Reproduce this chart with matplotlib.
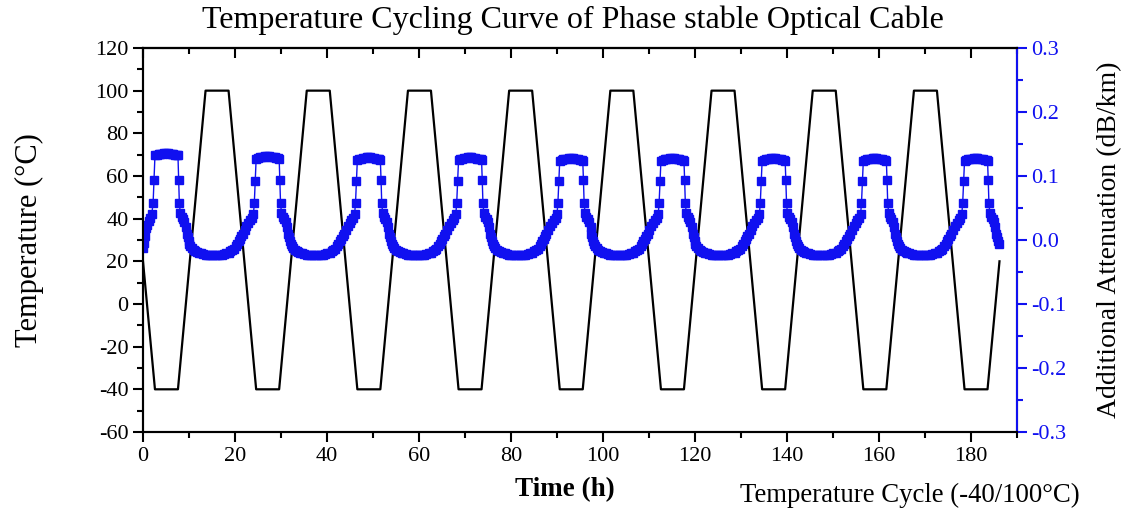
import numpy as np
import matplotlib
matplotlib.use("Agg")
import matplotlib.pyplot as plt
from matplotlib.ticker import MultipleLocator, FormatStrFormatter

# temperature program (h, degC): 20 -> -40 dwell -> 100 dwell, 22 h per cycle
temp_hours = [0, 2.6, 7.6, 13.6, 18.6, 24.6, 29.6, 35.6, 40.6, 46.6, 51.6, 57.6,
              62.6, 68.6, 73.6, 79.6, 84.6, 90.6, 95.6, 101.6, 106.6, 112.6,
              117.6, 123.6, 128.6, 134.6, 139.6, 145.6, 150.6, 156.6, 161.6,
              167.6, 172.6, 178.6, 183.6, 186.2]
temp_values = [20, -40, -40, 100, 100, -40, -40, 100, 100, -40, -40, 100,
               100, -40, -40, 100, 100, -40, -40, 100, 100, -40,
               -40, 100, 100, -40, -40, 100, 100, -40, -40,
               100, 100, -40, -40, 20]

# start of each -40 degC dwell (h)
cold_start = [2.6, 24.6, 46.6, 68.6, 90.6, 112.6, 134.6, 156.6, 178.6]
# attenuation level read on each cold plateau (dB/km)
plateau_levels = [0.134, 0.129, 0.127, 0.127, 0.126, 0.126, 0.126, 0.126, 0.126]

# first points before the first cold dwell
lead_hours = [0.0, 0.2, 0.4, 0.6, 0.9, 1.2, 1.6, 1.9, 2.2, 2.4]
lead_att = [-0.012, -0.004, 0.006, 0.018, 0.024, 0.030, 0.034, 0.040, 0.058, 0.094]

# shape of one cycle, hours after the cold dwell begins
plateau_offsets = [0.0, 0.4, 0.8, 1.2, 1.6, 2.0, 2.4, 2.8, 3.2, 3.6, 4.0, 4.4, 4.8, 5.0]
plateau_shape = [-0.002, -0.001, 0.0, 0.001, 0.001, 0.002, 0.002, 0.002, 0.001,
                 0.001, 0.0, -0.001, -0.001, -0.002]
release_offsets = [5.15, 5.3, 5.5, 5.8, 6.1, 6.4, 6.7, 6.9, 7.1, 7.3, 7.5, 7.7,
                   8.0, 8.4, 8.8, 9.2, 9.6, 10.0, 10.5, 11.0, 11.5, 12.0, 12.5,
                   13.0, 13.5, 14.0, 14.5, 15.0, 15.5, 16.0, 16.4, 16.8, 17.2,
                   17.6, 17.9, 18.2, 18.5, 18.8, 19.1, 19.5, 19.9, 20.3, 20.7,
                   21.1, 21.4, 21.6, 21.8]
release_att = [0.094, 0.058, 0.042, 0.036, 0.033, 0.028, 0.020, 0.010, 0.004,
               -0.002, -0.006, -0.010, -0.013, -0.015, -0.017, -0.019, -0.020,
               -0.021, -0.022, -0.023, -0.023, -0.024, -0.024, -0.024, -0.024,
               -0.023, -0.023, -0.022, -0.021, -0.020, -0.018, -0.016, -0.014,
               -0.010, -0.006, -0.002, 0.002, 0.006, 0.010, 0.016, 0.022,
               0.027, 0.031, 0.034, 0.040, 0.058, 0.092]
end_hour = 186.2

att_hours = list(lead_hours)
att_values = list(lead_att)
for start, level in zip(cold_start, plateau_levels):
    for off, dv in zip(plateau_offsets, plateau_shape):
        att_hours.append(start + off)
        att_values.append(level + dv)
    for off, v in zip(release_offsets, release_att):
        if start + off <= end_hour:
            att_hours.append(start + off)
            att_values.append(v)

plt.rcParams['font.family'] = ['Liberation Serif', 'DejaVu Serif']
plt.rcParams['axes.linewidth'] = 1.5
plt.rcParams['axes.unicode_minus'] = False

blue = '#1010f0'

fig = plt.figure(figsize=(11.34, 5.12), dpi=100)
ax = fig.add_axes([0.1261, 0.1563, 0.7707, 0.75])
ax.plot(temp_hours, temp_values, color='black', lw=1.6, zorder=3)
ax.set_xlim(0, 190)
ax.set_ylim(-60, 120)
ax.xaxis.set_major_locator(MultipleLocator(20))
ax.xaxis.set_minor_locator(MultipleLocator(10))
ax.yaxis.set_major_locator(MultipleLocator(20))
ax.yaxis.set_minor_locator(MultipleLocator(10))
ax.tick_params(which='both', direction='out', width=1.5, labelsize=16)
ax.tick_params(which='major', length=7)
ax.tick_params(which='minor', length=4)
ax.set_ylabel('Temperature (°C)', fontsize=22)
ax.yaxis.set_label_coords(-0.113, 0.5)

top = ax.secondary_xaxis('top')
top.xaxis.set_major_locator(MultipleLocator(20))
top.xaxis.set_minor_locator(MultipleLocator(10))
top.tick_params(which='both', direction='in', width=1.5, labeltop=False)
top.tick_params(which='major', length=7)
top.tick_params(which='minor', length=4)

ax2 = ax.twinx()
ax2.plot(att_hours, att_values, color=blue, lw=1.0, marker='s', ms=5.5,
         mec=blue, mfc=blue, zorder=2)
ax2.set_ylim(-0.3, 0.3)
ax2.yaxis.set_major_locator(MultipleLocator(0.1))
ax2.yaxis.set_minor_locator(MultipleLocator(0.05))
ax2.yaxis.set_major_formatter(FormatStrFormatter('%.1f'))
ax2.tick_params(which='both', direction='out', width=1.5, labelsize=16,
                colors=blue)
ax2.tick_params(which='major', length=7)
ax2.tick_params(which='minor', length=4)
ax2.spines['right'].set_color(blue)
ax2.set_ylabel('Additional Attenuation (dB/km)', fontsize=20, color='black')
ax2.yaxis.set_label_coords(1.092, 0.5)

fig.text(0.505, 0.961, 'Temperature Cycling Curve of Phase stable Optical Cable',
         ha='center', va='center', fontsize=23)
fig.text(0.498, 0.043, 'Time (h)', ha='center', va='center', fontsize=19.5,
         fontweight='bold')
fig.text(0.8025, 0.033, 'Temperature Cycle (-40/100°C)', ha='center',
         va='center', fontsize=19.3)

fig.savefig('out.png', dpi=100)
